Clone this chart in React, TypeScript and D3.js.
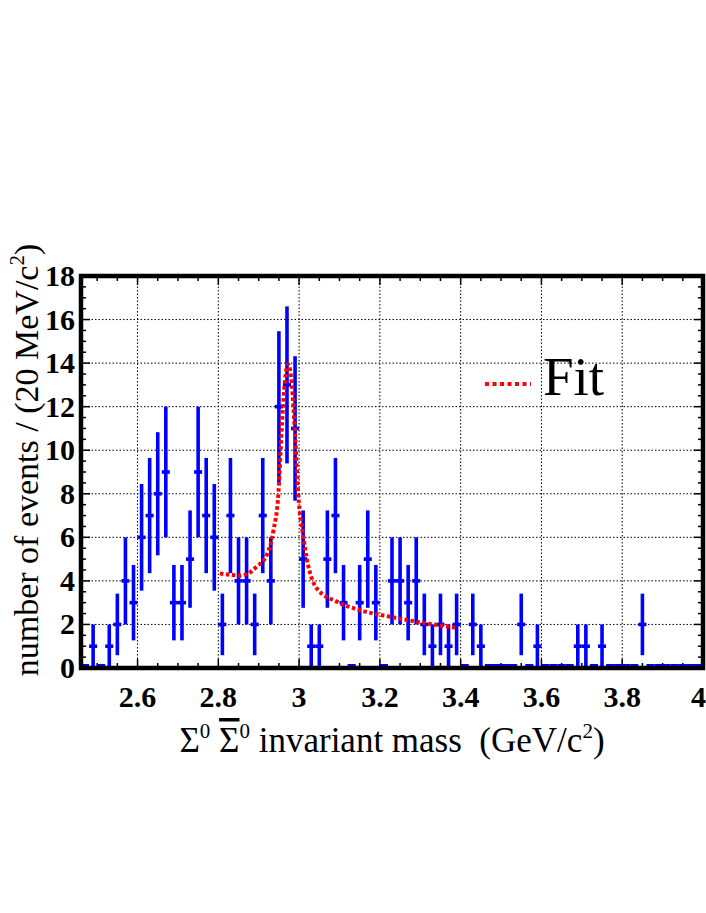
import React from 'react'
import { scaleLinear, line, curveMonotoneX, range } from 'd3'

// histogram: 20 MeV bins starting at 2.46 GeV
const binLow = 2.46
const binWidth = 0.02
const counts = [
  0, 1, 0, 1, 2, 4, 3, 6, 7, 8,
  9, 3, 3, 5, 9, 7, 6, 2, 7, 4,
  4, 2, 7, 4, 12, 13, 11, 5, 1, 1,
  5, 7, 3, 0, 3, 5, 3, 0, 4, 4,
  3, 4, 2, 1, 2, 1, 2, 0, 2, 1,
  0, 0, 0, 0, 2, 0, 1, 0, 0, 0,
  0, 1, 1, 0, 1, 0, 0, 0, 0, 2,
  0, 0, 0, 0, 0, 0, 0,
]

// fit curve
const fitMass = [2.804, 2.83, 2.853, 2.875, 2.895, 2.92, 2.936, 2.949, 2.957, 2.965, 2.973, 2.982, 2.99, 2.998, 3.011, 3.019, 3.044, 3.094, 3.152, 3.226, 3.309, 3.392]
const fitValue = [4.34, 4.28, 4.24, 4.35, 4.65, 5.19, 6.26, 8.1, 11.0, 13.2, 13.95, 13.0, 10.7, 7.96, 5.95, 5.03, 3.65, 3.04, 2.65, 2.35, 2.07, 1.84]

const xTickLabels = ['2.6', '2.8', '3', '3.2', '3.4', '3.6', '3.8', '4']
const yTickLabels = ['0', '2', '4', '6', '8', '10', '12', '14', '16', '18']

const serif = '"Liberation Serif", "Times New Roman", serif'
const blue = '#0000ff'
const red = '#ff0000'
const nb = '\u00a0'

export default function App() {
  const left = 81, right = 703, top = 276, bottom = 668
  const x = scaleLinear().domain([2.46, 4.0]).range([left, right])
  const y = scaleLinear().domain([0, 18]).range([bottom, top])

  const xMajor = xTickLabels.map(Number)
  const xMinor = range(2.5, 4.0001, 0.05).filter(v => xMajor.every(m => Math.abs(m - v) > 1e-6))
  const yMajor = yTickLabels.map(Number)
  const yMinor = range(0.5, 18, 0.5).filter(v => v % 2 !== 0)

  const fitLine = line<number>()
    .x((d, i) => x(fitMass[i]))
    .y(d => y(d))
    .curve(curveMonotoneX)

  const bins = counts.map((n, i) => {
    const lo = binLow + i * binWidth
    return { lo, hi: lo + binWidth, c: lo + binWidth / 2, n }
  })

  return (
    <svg width={706} height={913} style={{ position: 'absolute', left: 0, top: 0, background: '#fff' }}>
      <rect x={0} y={0} width={706} height={913} fill="#fff" />

      {/* grid */}
      <g stroke="#000" strokeWidth={1} strokeDasharray="1.5,2">
        {xMajor.filter(v => v < 4).map(v => (
          <line key={'gx' + v} x1={x(v)} x2={x(v)} y1={top} y2={bottom} />
        ))}
        {yMajor.filter(v => v > 0 && v < 18).map(v => (
          <line key={'gy' + v} x1={left} x2={right} y1={y(v)} y2={y(v)} />
        ))}
      </g>

      {/* ticks on all sides */}
      <g stroke="#000" strokeWidth={1.5}>
        {xMajor.map(v => (
          <g key={'tx' + v}>
            <line x1={x(v)} x2={x(v)} y1={bottom} y2={bottom - 9} />
            <line x1={x(v)} x2={x(v)} y1={top} y2={top + 9} />
          </g>
        ))}
        {xMinor.map(v => (
          <g key={'mx' + v}>
            <line x1={x(v)} x2={x(v)} y1={bottom} y2={bottom - 5} />
            <line x1={x(v)} x2={x(v)} y1={top} y2={top + 5} />
          </g>
        ))}
        {yMajor.map(v => (
          <g key={'ty' + v}>
            <line x1={left} x2={left + 9} y1={y(v)} y2={y(v)} />
            <line x1={right} x2={right - 9} y1={y(v)} y2={y(v)} />
          </g>
        ))}
        {yMinor.map(v => (
          <g key={'my' + v}>
            <line x1={left} x2={left + 5} y1={y(v)} y2={y(v)} />
            <line x1={right} x2={right - 5} y1={y(v)} y2={y(v)} />
          </g>
        ))}
      </g>

      {/* data points with sqrt(n) errors */}
      <g stroke={blue}>
        {bins.map((b, i) =>
          b.n === 0 ? (
            <line key={'z' + i} x1={x(b.lo)} x2={x(b.hi)} y1={y(0) - 2} y2={y(0) - 2} strokeWidth={4} />
          ) : (
            <g key={'p' + i}>
              <line x1={x(b.c)} x2={x(b.c)} y1={y(b.n - Math.sqrt(b.n))} y2={y(b.n + Math.sqrt(b.n))} strokeWidth={3.6} />
              <line x1={x(b.lo)} x2={x(b.hi)} y1={y(b.n)} y2={y(b.n)} strokeWidth={3.6} />
            </g>
          )
        )}
      </g>

      {/* fit */}
      <path d={fitLine(fitValue) || ''} fill="none" stroke={red} strokeWidth={4} strokeDasharray="3.5,2.5" />

      {/* frame */}
      <rect x={left} y={top} width={right - left} height={bottom - top} fill="none" stroke="#000" strokeWidth={4.5} />

      {/* legend */}
      <line x1={485} x2={531} y1={384} y2={384} stroke={red} strokeWidth={4} strokeDasharray="4,3.5" />
      <text x={543} y={395} fontFamily={serif} fontSize={55}>Fit</text>

      {/* tick labels */}
      <g fontFamily={serif} fontWeight="bold" fontSize={30}>
        {xTickLabels.map((t, i) => (
          <text key={'lx' + t} x={i === xTickLabels.length - 1 ? 706 : x(+t)} y={707}
            textAnchor={i === xTickLabels.length - 1 ? 'end' : 'middle'}>{t}</text>
        ))}
        {yTickLabels.map(t => (
          <text key={'ly' + t} x={75} y={y(+t) + 10} textAnchor="end">{t}</text>
        ))}
      </g>

      {/* axis titles */}
      <text x={392} y={752} textAnchor="middle" fontFamily={serif} fontSize={35}>
        Σ<tspan fontSize={21} dy={-14}>0</tspan>
        <tspan dy={14}>{nb}</tspan>
        <tspan style={{ textDecoration: 'overline' }}>Σ</tspan>
        <tspan fontSize={21} dy={-14}>0</tspan>
        <tspan dy={14}>{nb + 'invariant mass' + nb + nb + '(GeV/c'}</tspan>
        <tspan fontSize={21} dy={-14}>2</tspan>
        <tspan dy={14}>)</tspan>
      </text>
      <text transform="translate(38,460) rotate(-90)" textAnchor="middle" fontFamily={serif} fontSize={34}>
        number of events / (20 MeV/c<tspan fontSize={21} dy={-14}>2</tspan>
        <tspan dy={14}>)</tspan>
      </text>
    </svg>
  )
}
